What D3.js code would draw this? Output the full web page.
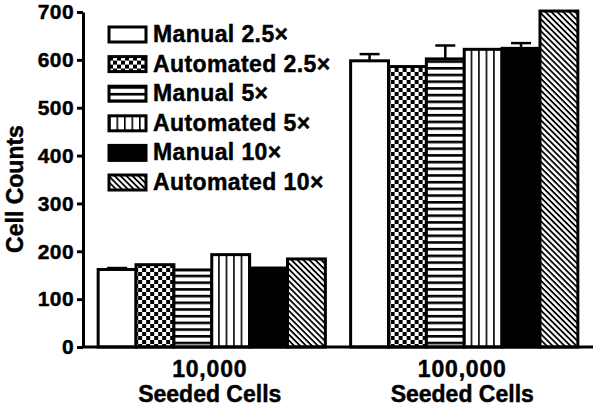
<!DOCTYPE html>
<html>
<head>
<meta charset="utf-8">
<script src="https://cdn.jsdelivr.net/npm/d3@7"></script>
<style>
  body { margin: 0; background: #fff; }
  svg { display: block; font-family: "Liberation Sans", Arial, sans-serif; font-weight: bold; }
  svg text { stroke: #000; stroke-width: 0.45px; }
</style>
</head>
<body>
<div id="chart"></div>
<script>
// Chart data
const groups = ['10,000', '100,000'];
const series = ['Manual 2.5×', 'Automated 2.5×', 'Manual 5×', 'Automated 5×', 'Manual 10×', 'Automated 10×'];
const values10k = [162, 172, 161, 193, 165, 184];
const values100k = [598, 586, 602, 622, 624, 702];
const errors10k = [3, 0, 0, 0, 0, 0];
const errors100k = [14, 0, 28, 0, 11, 0];
const yTicks = [0, 100, 200, 300, 400, 500, 600, 700];

const width = 600, height = 411;
const margin = { left: 83, right: 7, top: 12, bottom: 64 };

const svg = d3.select('#chart').append('svg')
  .attr('width', width)
  .attr('height', height);

// Fill patterns for each series
const defs = svg.append('defs');

const checker = defs.append('pattern').attr('id', 'p-checker')
  .attr('patternUnits', 'userSpaceOnUse').attr('width', 8).attr('height', 8);
checker.append('rect').attr('width', 8).attr('height', 8).attr('fill', '#fff');
checker.append('rect').attr('width', 4).attr('height', 4).attr('fill', '#000');
checker.append('rect').attr('x', 4).attr('y', 4).attr('width', 4).attr('height', 4).attr('fill', '#000');

const hstripe = defs.append('pattern').attr('id', 'p-hstripe')
  .attr('patternUnits', 'userSpaceOnUse').attr('width', 8).attr('height', 6.7);
hstripe.append('rect').attr('width', 8).attr('height', 6.7).attr('fill', '#fff');
hstripe.append('rect').attr('y', 0).attr('width', 8).attr('height', 2.6).attr('fill', '#000');

const vstripe = defs.append('pattern').attr('id', 'p-vstripe')
  .attr('patternUnits', 'userSpaceOnUse').attr('width', 7.5).attr('height', 8);
vstripe.append('rect').attr('width', 7.5).attr('height', 8).attr('fill', '#fff');
vstripe.append('rect').attr('x', 0).attr('width', 1.6).attr('height', 8).attr('fill', '#000');

const diag = defs.append('pattern').attr('id', 'p-diag')
  .attr('patternUnits', 'userSpaceOnUse').attr('width', 4.2).attr('height', 4.2)
  .attr('patternTransform', 'rotate(45)');
diag.append('rect').attr('width', 4.2).attr('height', 4.2).attr('fill', '#fff');
diag.append('rect').attr('width', 4.2).attr('height', 1.8).attr('fill', '#000');

const fills = ['#fff', 'url(#p-checker)', 'url(#p-hstripe)', 'url(#p-vstripe)', '#000', 'url(#p-diag)'];

// Scales
const x = d3.scaleBand()
  .domain(groups)
  .range([margin.left, width - margin.right])
  .paddingInner(0.1)
  .paddingOuter(0.06);

const xs = d3.scaleBand()
  .domain(series)
  .range([0, x.bandwidth()]);

const y = d3.scaleLinear()
  .domain([0, 700])
  .range([height - margin.bottom, margin.top]);

const data = [
  { group: groups[0], values: values10k, errors: errors10k },
  { group: groups[1], values: values100k, errors: errors100k }
];

// Bars
const groupSel = svg.append('g').selectAll('g')
  .data(data)
  .join('g')
  .attr('transform', d => `translate(${x(d.group)},0)`);

const barData = d => series.map((s, i) => ({ name: s, i, value: d.values[i], err: d.errors[i] }));

// Error bars (upper only)
groupSel.selectAll('g.err')
  .data(d => barData(d).filter(b => b.err > 0))
  .join('g')
  .attr('class', 'err')
  .each(function(b) {
    const cx = xs(b.name) + xs.bandwidth() / 2;
    const g = d3.select(this);
    g.append('line')
      .attr('x1', cx).attr('x2', cx)
      .attr('y1', y(b.value)).attr('y2', y(b.value + b.err))
      .attr('stroke', '#000').attr('stroke-width', 2.5);
    g.append('line')
      .attr('x1', cx - 10).attr('x2', cx + 10)
      .attr('y1', y(b.value + b.err)).attr('y2', y(b.value + b.err))
      .attr('stroke', '#000').attr('stroke-width', 2.5);
  });

groupSel.selectAll('rect.bar')
  .data(barData)
  .join('rect')
  .attr('class', 'bar')
  .attr('x', b => xs(b.name))
  .attr('y', b => y(b.value))
  .attr('width', xs.bandwidth())
  .attr('height', b => y(0) - y(b.value))
  .attr('fill', b => fills[b.i])
  .attr('stroke', '#000')
  .attr('stroke-width', 3);

// Y axis
const yAxis = svg.append('g')
  .attr('transform', `translate(${margin.left},0)`)
  .call(d3.axisLeft(y).tickValues(yTicks).tickSize(6).tickSizeOuter(0).tickPadding(3));
yAxis.select('.domain').attr('stroke-width', 3);
yAxis.selectAll('.tick line').attr('stroke-width', 3);
yAxis.selectAll('.tick text')
  .attr('font-size', 21)
  .attr('font-weight', 'bold')
  .attr('font-family', '"Liberation Sans", Arial, sans-serif')
  .attr('letter-spacing', 0.4)
  .attr('fill', '#000');

// X axis baseline
svg.append('line')
  .attr('x1', margin.left).attr('x2', width - margin.right)
  .attr('y1', y(0)).attr('y2', y(0))
  .attr('stroke', '#000').attr('stroke-width', 3);

// X category labels
const xl = svg.append('g').selectAll('text')
  .data(groups)
  .join('text')
  .attr('text-anchor', 'middle')
  .attr('font-size', 23)
  .attr('x', d => x(d) + x.bandwidth() / 2 - 2);
xl.append('tspan').attr('y', 377).attr('letter-spacing', 0.8).text(d => d);
xl.append('tspan').attr('x', d => x(d) + x.bandwidth() / 2 - 2).attr('y', 402).text('Seeded Cells');

// Y axis title
svg.append('text')
  .attr('transform', 'translate(23,189) rotate(-90)')
  .attr('text-anchor', 'middle')
  .attr('font-size', 23)
  .text('Cell Counts');

// Legend
const legend = svg.append('g').attr('transform', 'translate(109,27)');
const item = legend.selectAll('g')
  .data(series)
  .join('g')
  .attr('transform', (d, i) => `translate(0,${i * 29.6})`);
item.append('rect')
  .attr('width', 37).attr('height', 15)
  .attr('fill', (d, i) => fills[i])
  .attr('stroke', '#000').attr('stroke-width', 3);
item.append('text')
  .attr('x', 44).attr('y', 15)
  .attr('font-size', 23)
  .attr('letter-spacing', 0.4)
  .text(d => d);
</script>
</body>
</html>
